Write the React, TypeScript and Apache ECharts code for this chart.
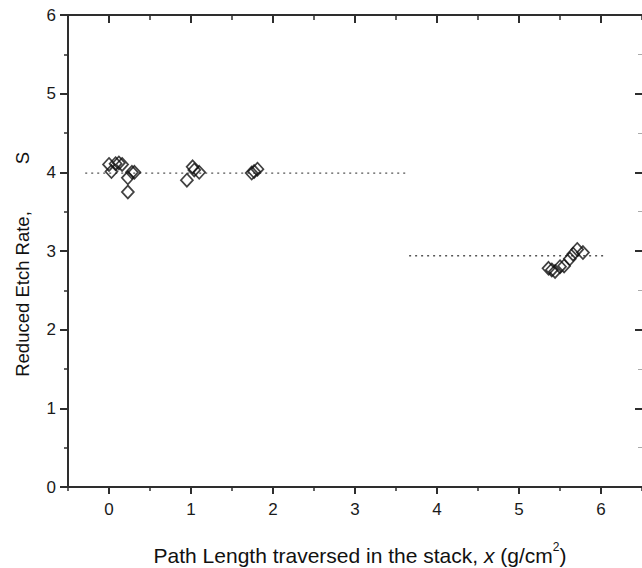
import React, { useEffect, useRef } from "react";
import * as echarts from "echarts";

// Measured reduced etch rate S versus path length x (g/cm^2)
const groupA: number[][] = [
  [0.0, 4.1], [0.03, 4.01], [0.08, 4.11], [0.12, 4.12], [0.16, 4.1],
  [0.23, 3.93], [0.28, 4.0], [0.31, 4.0], [0.23, 3.75],
];
const groupB: number[][] = [
  [0.95, 3.9], [1.02, 4.07], [1.04, 4.03], [1.1, 4.0],
];
const groupC: number[][] = [
  [1.74, 3.99], [1.77, 4.01], [1.81, 4.04],
];
const groupD: number[][] = [
  [5.36, 2.78], [5.4, 2.76], [5.44, 2.74], [5.5, 2.8], [5.55, 2.81],
  [5.62, 2.9], [5.66, 2.96], [5.71, 3.02], [5.78, 2.98],
];

// Mean levels drawn as dotted lines
const meanLine1: number[][] = [[-0.29, 3.99], [3.64, 3.99]];
const meanLine2: number[][] = [[3.66, 2.94], [6.04, 2.94]];

const xMajor = [0, 1, 2, 3, 4, 5, 6];
const xMinor = [-0.5, 0.5, 1.5, 2.5, 3.5, 4.5, 5.5, 6.5];

const FONT = "Liberation Sans";
const AXIS_COLOR = "#2e2e2e";

export default function App() {
  const ref = useRef<HTMLDivElement>(null);

  useEffect(() => {
    if (!ref.current) return;
    const chart = echarts.init(ref.current, undefined, { renderer: "svg" });

    const line = { show: true, onZero: false, lineStyle: { color: AXIS_COLOR, width: 2 } };
    const noLine = { show: false, onZero: false };
    const baseX = { type: "value" as const, min: -0.5, max: 6.5, splitLine: { show: false } };
    const tickLabel = { fontSize: 17, color: "#1a1a1a", fontFamily: FONT };
    const majorTickStyle = { color: AXIS_COLOR, width: 2 };
    const minorTickStyle = { color: AXIS_COLOR, width: 1.5 };

    const points = [...groupA, ...groupB, ...groupC, ...groupD];

    chart.setOption({
      animation: false,
      backgroundColor: "#ffffff",
      grid: { left: 68, right: -1, top: 15, bottom: 81 },
      xAxis: [
        {
          ...baseX,
          position: "bottom",
          axisLine: line,
          axisTick: { show: true, customValues: xMajor, length: 7, lineStyle: majorTickStyle },
          axisLabel: { ...tickLabel, customValues: xMajor, margin: 14 },
        },
        {
          ...baseX,
          position: "bottom",
          axisLine: noLine,
          axisTick: { show: true, customValues: xMinor, length: 4, lineStyle: minorTickStyle },
          axisLabel: { show: false },
        },
        {
          ...baseX,
          position: "top",
          axisLine: line,
          axisTick: { show: true, inside: true, customValues: xMajor, length: 8, lineStyle: majorTickStyle },
          axisLabel: { show: false },
        },
        {
          ...baseX,
          position: "top",
          axisLine: noLine,
          axisTick: { show: true, inside: true, customValues: xMinor, length: 5, lineStyle: minorTickStyle },
          axisLabel: { show: false },
        },
      ],
      yAxis: [
        {
          type: "value",
          position: "left",
          min: 0,
          max: 6,
          interval: 1,
          splitLine: { show: false },
          axisLine: line,
          axisTick: { show: true, length: 8, lineStyle: majorTickStyle },
          minorTick: { show: true, splitNumber: 2, length: 4, lineStyle: minorTickStyle },
          axisLabel: { ...tickLabel, margin: 12 },
        },
        {
          type: "value",
          position: "right",
          min: 0,
          max: 6,
          interval: 1,
          splitLine: { show: false },
          axisLine: noLine,
          axisTick: { show: true, inside: true, length: 7, lineStyle: majorTickStyle },
          minorTick: { show: true, splitNumber: 2, length: 4, lineStyle: { color: "#aaa", width: 1 } },
          axisLabel: { show: false },
        },
      ],
      graphic: [
        {
          type: "text",
          x: 22,
          y: 294,
          rotation: Math.PI / 2,
          style: {
            text: "Reduced Etch Rate,",
            fontSize: 18.5,
            fontFamily: FONT,
            fill: "#111",
            align: "center",
            verticalAlign: "middle",
          },
        },
        {
          type: "text",
          x: 22,
          y: 158,
          rotation: Math.PI / 2,
          style: {
            text: "S",
            fontSize: 18.5,
            fontFamily: FONT,
            fill: "#111",
            align: "center",
            verticalAlign: "middle",
          },
        },
        {
          type: "text",
          x: 360,
          y: 553,
          style: {
            text: "{a|Path Length traversed in the stack, }{i|x}{a| (g/cm}{s|2}{a|)}",
            align: "center",
            verticalAlign: "middle",
            fill: "#111",
            rich: {
              a: { fontSize: 21, fontFamily: FONT, fill: "#111", lineHeight: 25, verticalAlign: "bottom" },
              i: { fontSize: 21, fontFamily: FONT, fontStyle: "italic", fill: "#111", lineHeight: 25, verticalAlign: "bottom" },
              s: { fontSize: 12, fontFamily: FONT, fill: "#111", lineHeight: 25, verticalAlign: "top" },
            },
          },
        },
      ],
      series: [
        {
          type: "line",
          data: meanLine1,
          xAxisIndex: 0,
          yAxisIndex: 0,
          symbol: "none",
          lineStyle: { type: [2, 4], color: "#555", width: 1.4 },
          z: 1,
        },
        {
          type: "line",
          data: meanLine2,
          xAxisIndex: 0,
          yAxisIndex: 0,
          symbol: "none",
          lineStyle: { type: [2, 4], color: "#555", width: 1.4 },
          z: 1,
        },
        {
          type: "scatter",
          data: points,
          xAxisIndex: 0,
          yAxisIndex: 0,
          symbol: "diamond",
          symbolSize: [12, 13],
          itemStyle: { color: "rgba(255,255,255,0)", borderColor: "#111", borderWidth: 1.7 },
          z: 3,
        },
      ],
    });

    return () => chart.dispose();
  }, []);

  return (
    <div
      ref={ref}
      style={{ position: "absolute", left: 0, top: 0, width: 642, height: 568 }}
    />
  );
}
